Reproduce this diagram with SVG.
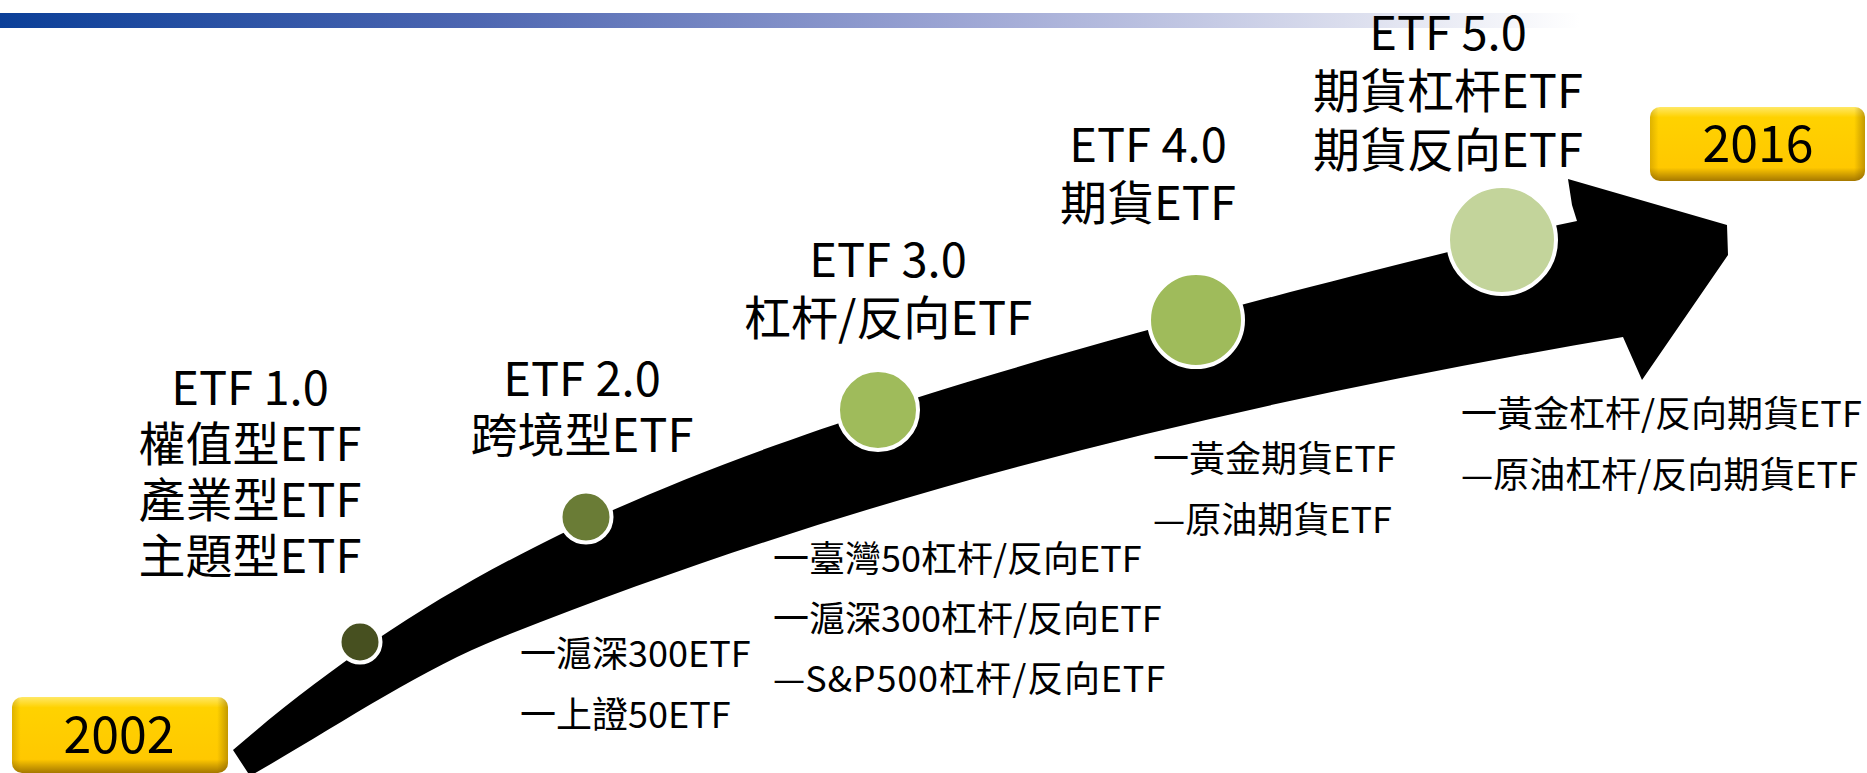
<svg xmlns="http://www.w3.org/2000/svg" width="1867" height="773" viewBox="0 0 1867 773">
  <defs>
    <linearGradient id="barGrad" x1="0" y1="0" x2="1" y2="0">
      <stop offset="0" stop-color="#0b3f98"/>
      <stop offset="0.3" stop-color="#4d66b1"/>
      <stop offset="0.6" stop-color="#9ba4d3"/>
      <stop offset="0.85" stop-color="#dadded"/>
      <stop offset="1" stop-color="#ffffff"/>
    </linearGradient>
    <linearGradient id="goldV" x1="0" y1="0" x2="0" y2="1">
      <stop offset="0" stop-color="#ffe866"/>
      <stop offset="0.14" stop-color="#ffd200"/>
      <stop offset="0.82" stop-color="#ffc800"/>
      <stop offset="1" stop-color="#a57800"/>
    </linearGradient>
    <linearGradient id="goldH" x1="0" y1="0" x2="1" y2="0">
      <stop offset="0" stop-color="#7a5600" stop-opacity="0.25"/>
      <stop offset="0.04" stop-color="#7a5600" stop-opacity="0"/>
      <stop offset="0.95" stop-color="#7a5600" stop-opacity="0"/>
      <stop offset="1" stop-color="#7a5600" stop-opacity="0.45"/>
    </linearGradient>
  </defs>
  <style>
    .head { font-family: "Noto Sans CJK TC", "Noto Sans", sans-serif; font-size: 47px; fill: #000; text-anchor: middle; }
    .item { font-family: "Noto Sans CJK TC", "Noto Sans", sans-serif; font-size: 36px; fill: #000; }
    .year { font-family: "Noto Sans CJK TC", "Noto Sans", sans-serif; font-size: 50px; fill: #000; text-anchor: middle; }
    .dot { stroke: #ffffff; }
  </style>

  <rect x="0" y="13" width="1580" height="15" fill="url(#barGrad)"/>

  <g id="connectors">
    <path id="timeline-arrow" fill="#000000" d="M233,750 C496,524 761,419 1558,225 L1577,221 L1572,205 L1568,179 L1727,225 L1728,255 L1642,380 L1623,337 C1249,400.6 874,488.4 500,638 C417,671 333,729 250,776 Z"/>
  </g>

  <g id="stage-1">
    <circle class="dot" cx="360" cy="642" r="20.5" fill="#475020" stroke-width="4"/>
    <text class="head" x="250" y="405">ETF 1.0</text>
    <text class="head" x="250" y="461">權值型ETF</text>
    <text class="head" x="250" y="517">產業型ETF</text>
    <text class="head" x="250" y="573">主題型ETF</text>
  </g>

  <g id="stage-2">
    <circle class="dot" cx="586" cy="517" r="25.5" fill="#6a7c36" stroke-width="4"/>
    <text class="head" x="582" y="396">ETF 2.0</text>
    <text class="head" x="582" y="452">跨境型ETF</text>
    <text class="item" x="520" y="667">一滬深300ETF</text>
    <text class="item" x="520" y="728">一上證50ETF</text>
  </g>

  <g id="stage-3">
    <circle class="dot" cx="878" cy="410" r="40" fill="#9fbb5b" stroke-width="4"/>
    <text class="head" x="888" y="277">ETF 3.0</text>
    <text class="head" x="888" y="335">杠杆/反向ETF</text>
    <text class="item" x="773" y="572">一臺灣50杠杆/反向ETF</text>
    <text class="item" x="773" y="632">一滬深300杠杆/反向ETF</text>
    <text class="item" x="773" y="692" textLength="392" lengthAdjust="spacing">—S&amp;P500杠杆/反向ETF</text>
  </g>

  <g id="stage-4">
    <circle class="dot" cx="1196" cy="320" r="47" fill="#9fbb5b" stroke-width="4"/>
    <text class="head" x="1148" y="162">ETF 4.0</text>
    <text class="head" x="1148" y="220">期貨ETF</text>
    <text class="item" x="1153" y="472">一黃金期貨ETF</text>
    <text class="item" x="1153" y="533">—原油期貨ETF</text>
  </g>

  <g id="stage-5">
    <circle class="dot" cx="1502" cy="240" r="54" fill="#c3d49b" stroke-width="4"/>
    <text class="head" x="1448" y="50">ETF 5.0</text>
    <text class="head" x="1448" y="108">期貨杠杆ETF</text>
    <text class="head" x="1448" y="167">期貨反向ETF</text>
    <text class="item" x="1461" y="427">一黃金杠杆/反向期貨ETF</text>
    <text class="item" x="1461" y="488">—原油杠杆/反向期貨ETF</text>
  </g>

  <g id="year-2002">
    <rect x="12" y="697" width="216" height="76" rx="10" fill="url(#goldV)"/>
    <rect x="12" y="697" width="216" height="76" rx="10" fill="url(#goldH)"/>
    <text class="year" x="119" y="753">2002</text>
  </g>

  <g id="year-2016">
    <rect x="1650" y="107" width="215" height="74" rx="10" fill="url(#goldV)"/>
    <rect x="1650" y="107" width="215" height="74" rx="10" fill="url(#goldH)"/>
    <text class="year" x="1758" y="162">2016</text>
  </g>
</svg>
